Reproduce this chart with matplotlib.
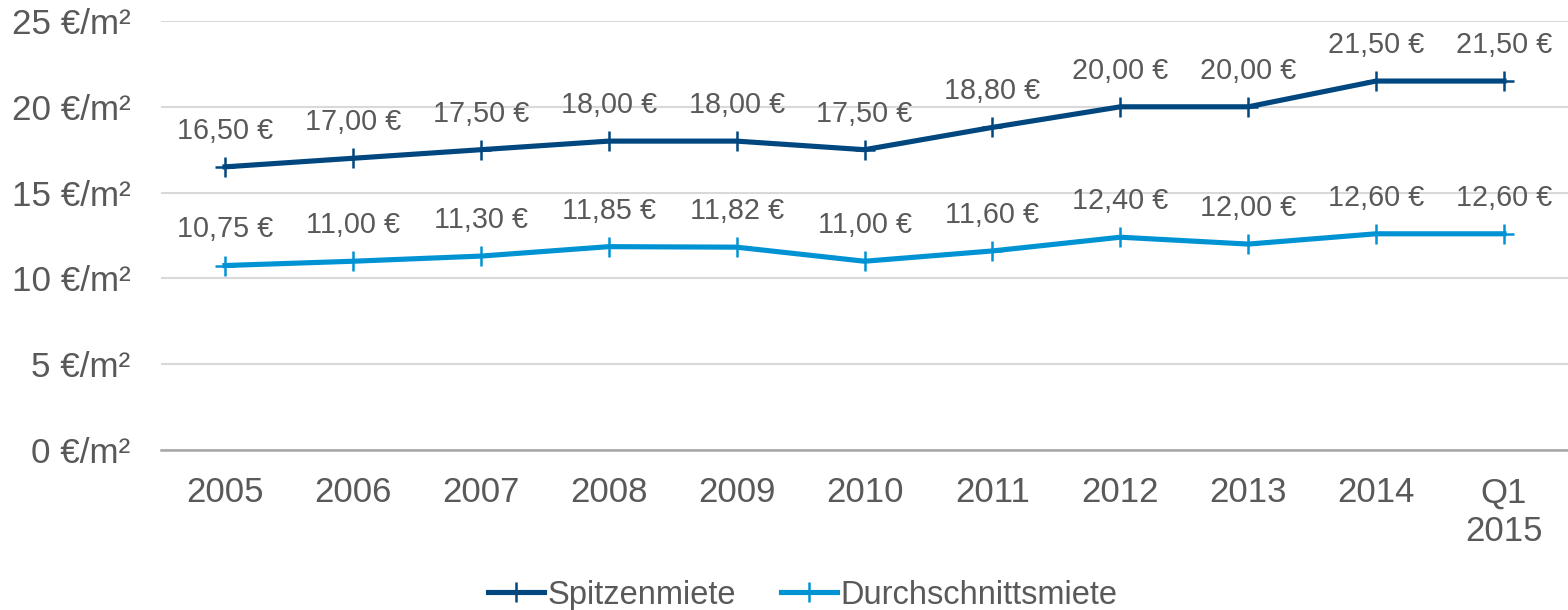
import matplotlib.pyplot as plt

# Daten
kategorien = ["2005", "2006", "2007", "2008", "2009", "2010", "2011", "2012", "2013", "2014", "Q1\n2015"]
spitzenmiete = [16.50, 17.00, 17.50, 18.00, 18.00, 17.50, 18.80, 20.00, 20.00, 21.50, 21.50]
durchschnittsmiete = [10.75, 11.00, 11.30, 11.85, 11.82, 11.00, 11.60, 12.40, 12.00, 12.60, 12.60]
y_ticks = [0, 5, 10, 15, 20, 25]

plt.rcParams["font.family"] = ["Liberation Sans", "DejaVu Sans"]
GRAU = "#595959"
DUNKEL = "#00477F"
HELL = "#0093D3"

fig = plt.figure(figsize=(15.68, 6.10), dpi=100)
ax = fig.add_axes([161 / 1568, 160 / 610, 1 - 161 / 1568, 429 / 610])

x = list(range(len(kategorien)))
ax.plot(x, spitzenmiete, color=DUNKEL, lw=3.7, marker="+", ms=14, mew=1.8,
        label="Spitzenmiete", zorder=3)
ax.plot(x, durchschnittsmiete, color=HELL, lw=3.7, marker="+", ms=14, mew=1.8,
        label="Durchschnittsmiete", zorder=3)

def euro(v):
    return f"{v:.2f} €".replace(".", ",")

for serie in (spitzenmiete, durchschnittsmiete):
    for xi, v in zip(x, serie):
        ax.annotate(euro(v), (xi, v), xytext=(0, 26), textcoords="offset points",
                    ha="center", va="center", fontsize=20.7, color=GRAU)

ax.set_xlim(-0.5, len(kategorien) - 0.5)
ax.set_ylim(0, 25)
ax.set_yticks(y_ticks)
ax.set_yticklabels([f"{t} €/m²" for t in y_ticks])
ax.set_xticks(x)
ax.set_xticklabels(kategorien, linespacing=1.2)
ax.tick_params(axis="y", length=0, labelsize=25.2, colors=GRAU, pad=22)
ax.tick_params(axis="x", length=0, labelsize=25, colors=GRAU, pad=19)

ax.grid(axis="y", color="#D9D9D9", lw=1.5)
ax.set_axisbelow(True)
for s in ["top", "right", "left"]:
    ax.spines[s].set_visible(False)
ax.spines["bottom"].set_color("#A6A6A6")
ax.spines["bottom"].set_linewidth(1.8)

fig.legend(loc="center", bbox_to_anchor=(0.512, 0.024), ncol=2, frameon=False,
           fontsize=23.5, labelcolor=GRAU, handlelength=1.7, handletextpad=0.1,
           columnspacing=1.4, borderpad=0)

fig.savefig("out.png", dpi=100)
